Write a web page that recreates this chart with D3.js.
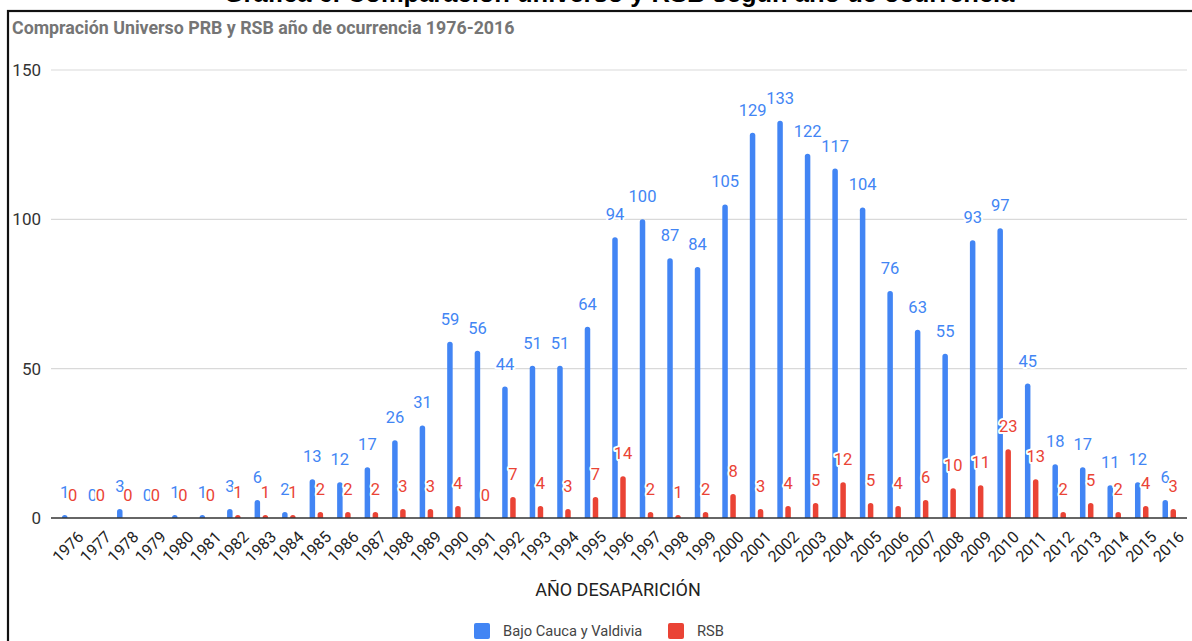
<!DOCTYPE html>
<html>
<head>
<meta charset="utf-8">
<script src="https://cdn.jsdelivr.net/npm/d3@7"></script>
<style>
  html, body { margin: 0; padding: 0; background: #fff; }
  svg { display: block; }
</style>
</head>
<body>
<svg id="chart" width="1192" height="641"></svg>
<script>
// Years of occurrence
const years = d3.range(1976, 2017).map(String);

// Bajo Cauca y Valdivia (universe)
const bajoCauca = [1, 0, 3, 0, 1, 1, 3, 6, 2, 13, 12, 17, 26, 31, 59, 56, 44, 51, 51, 64,
  94, 100, 87, 84, 105, 129, 133, 122, 117, 104, 76, 63, 55, 93, 97, 45, 18, 17, 11, 12, 6];

// RSB
const rsb = [0, 0, 0, 0, 0, 0, 1, 1, 1, 2, 2, 2, 3, 3, 4, 0, 7, 4, 3, 7,
  14, 2, 1, 2, 8, 3, 4, 5, 12, 5, 4, 6, 10, 11, 23, 13, 2, 5, 2, 4, 3];

const yTicks = [0, 50, 100, 150];

const seriesNames = ["Bajo Cauca y Valdivia", "RSB"];
const seriesColors = ["#4285F4", "#EA4335"];

const svg = d3.select("#chart");
const W = 1192, H = 641;

// Heading above the frame
svg.append("text")
  .attr("x", 619).attr("y", 1.5)
  .attr("text-anchor", "middle")
  .style("font-family", "Arial, 'Liberation Sans', sans-serif")
  .style("font-weight", "bold")
  .style("font-size", "25.5px")
  .attr("fill", "#000")
  .text("Gráfica 6. Comparación universo y RSB según año de ocurrencia");

// Frame
svg.append("rect")
  .attr("x", 8).attr("y", 11)
  .attr("width", W + 20).attr("height", H + 20)
  .attr("fill", "none")
  .attr("stroke", "#111")
  .attr("stroke-width", 2.2);

// Chart title
svg.append("text")
  .attr("x", 12).attr("y", 34)
  .style("font-family", "Roboto, Arial, sans-serif")
  .style("font-weight", "bold")
  .style("font-size", "17.8px")
  .attr("fill", "#757575")
  .text("Compración Universo PRB y RSB año de ocurrencia 1976-2016");

const x = d3.scaleBand().domain(years).range([55, 1183]).padding(0);
const y = d3.scaleLinear().domain([0, 150]).range([518, 70]);

const gridLeft = 51, gridRight = 1187;

// Gridlines
svg.append("g")
  .selectAll("line")
  .data(yTicks.filter(t => t !== 0))
  .join("line")
  .attr("x1", gridLeft).attr("x2", gridRight)
  .attr("y1", d => y(d)).attr("y2", d => y(d))
  .attr("stroke", "#d9d9d9")
  .attr("stroke-width", 1.2);

// Y tick labels
svg.append("g")
  .selectAll("text")
  .data(yTicks)
  .join("text")
  .attr("x", 41)
  .attr("y", d => y(d) + 6)
  .attr("text-anchor", "end")
  .style("font-family", "Roboto, Arial, sans-serif")
  .style("font-size", "17px")
  .attr("fill", "#333")
  .text(d => d);

const barW = 5.5;
const offsets = [-4, 4];

// Bar with rounded top corners
function barPath(cx, v) {
  const x0 = cx - barW / 2, x1 = cx + barW / 2;
  const top = y(v), base = y(0);
  const r = Math.min(barW / 2, (base - top));
  if (base - top <= 0) return null;
  return `M${x0},${base}V${top + r}A${r},${r} 0 0 1 ${x0 + r},${top}` +
         `H${x1 - r}A${r},${r} 0 0 1 ${x1},${top + r}V${base}Z`;
}

const seriesData = [bajoCauca, rsb];

seriesData.forEach((vals, si) => {
  svg.append("g")
    .selectAll("path")
    .data(vals.map((v, i) => ({ year: years[i], v })).filter(d => d.v > 0))
    .join("path")
    .attr("d", d => barPath(x(d.year) + x.bandwidth() / 2 + offsets[si], d.v))
    .attr("fill", seriesColors[si]);
});

// Baseline
svg.append("line")
  .attr("x1", gridLeft).attr("x2", gridRight)
  .attr("y1", y(0)).attr("y2", y(0))
  .attr("stroke", "#333")
  .attr("stroke-width", 1.3);

// Value labels, with a white halo
seriesData.forEach((vals, si) => {
  svg.append("g")
    .selectAll("text")
    .data(vals.map((v, i) => ({ year: years[i], v })))
    .join("text")
    .attr("x", d => x(d.year) + x.bandwidth() / 2 + offsets[si])
    .attr("y", d => y(d.v) - 17)
    .attr("text-anchor", "middle")
    .style("font-family", "Roboto, Arial, sans-serif")
    .style("font-size", "16.5px")
    .attr("fill", seriesColors[si])
    .attr("stroke", "#fff")
    .attr("stroke-width", 4)
    .attr("stroke-linejoin", "round")
    .attr("paint-order", "stroke")
    .text(d => d.v);
});

// X tick labels
svg.append("g")
  .selectAll("text")
  .data(years)
  .join("text")
  .attr("transform", d => `translate(${x(d) + x.bandwidth() / 2 + 8},${530}) rotate(-45)`)
  .attr("text-anchor", "end")
  .attr("dy", "0.7em")
  .style("font-family", "Roboto, Arial, sans-serif")
  .style("font-size", "16px")
  .attr("fill", "#222")
  .text(d => d);

// Axis title
svg.append("text")
  .attr("x", 618).attr("y", 596)
  .attr("text-anchor", "middle")
  .style("font-family", "Roboto, Arial, sans-serif")
  .style("font-size", "18px")
  .attr("fill", "#222")
  .text("AÑO DESAPARICIÓN");

// Legend
const legendItems = [
  { name: seriesNames[0], color: seriesColors[0], x: 474 },
  { name: seriesNames[1], color: seriesColors[1], x: 668 }
];
const lg = svg.append("g");
legendItems.forEach(item => {
  lg.append("rect")
    .attr("x", item.x).attr("y", 623)
    .attr("width", 16).attr("height", 16)
    .attr("rx", 2)
    .attr("fill", item.color);
  lg.append("text")
    .attr("x", item.x + 29).attr("y", 636)
    .style("font-family", "Roboto, Arial, sans-serif")
    .style("font-size", "14.7px")
    .attr("fill", "#444")
    .text(item.name);
});
</script>
</body>
</html>
